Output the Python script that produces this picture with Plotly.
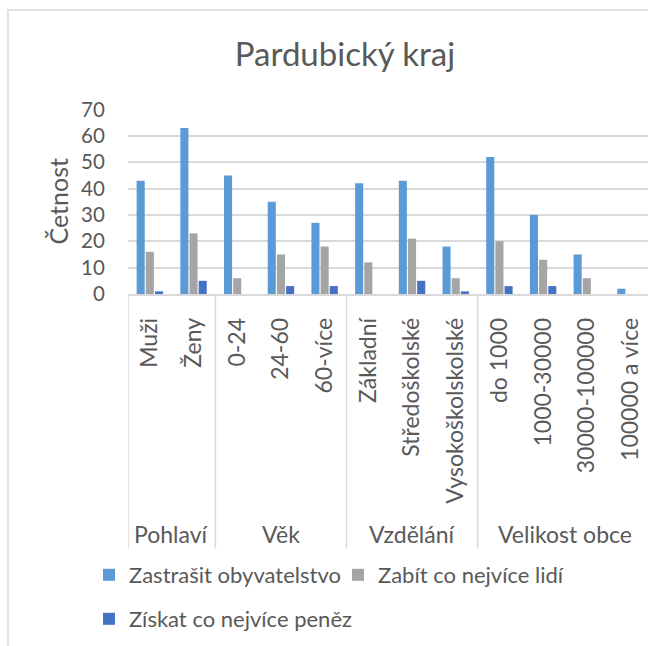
import plotly.graph_objects as go

categories = ["Muži", "Ženy", "0-24", "24-60", "60-více", "Základní", "Středoškolské",
              "Vysokoškolskolské", "do 1000", "1000-30000", "30000-100000", "100000 a více"]
groups = ["Pohlaví", "Věk", "Vzdělání", "Velikost obce"]
group_sizes = [2, 3, 3, 4]

zastrasit = [43, 63, 45, 35, 27, 42, 43, 18, 52, 30, 15, 2]
zabit = [16, 23, 6, 15, 18, 12, 21, 6, 20, 13, 6, 0]
ziskat = [1, 5, 0, 3, 3, 0, 5, 1, 3, 3, 0, 0]

series_names = ["Zastrašit obyvatelstvo", "Zabít co nejvíce lidí", "Získat co nejvíce peněz"]
colors = ["#5B9BD5", "#A5A5A5", "#4472C4"]

W, H = 648, 646
L, R, T, B = 128, 0, 109, 352
PW, PH = W - L - R, H - T - B
FONT = "Lato"
TXT = "#595959"
GRID = "#D9D9D9"

def px_x(X):
    return (X - L) / PW

def px_y(Y):
    return (H - B - Y) / PH

fig = go.Figure()
for i, (name, vals) in enumerate(zip(series_names, [zastrasit, zabit, ziskat])):
    fig.add_trace(go.Bar(x=categories, y=vals, name=name, marker=dict(color=colors[i], line=dict(width=0)),
                         legend=["legend", "legend2", "legend3"][i]))

shapes = []
edges = [-0.5]
acc = -0.5
for s in group_sizes:
    acc += s
    edges.append(acc)
for e in edges:
    shapes.append(dict(type="line", xref="x", yref="paper", x0=e, x1=e, y0=0, y1=px_y(548.6),
                       line=dict(color=GRID, width=1.5)))
shapes.append(dict(type="rect", xref="paper", yref="paper", x0=px_x(8), x1=px_x(700),
                   y0=px_y(700), y1=px_y(10), line=dict(color=GRID, width=1.5)))

annotations = []
start = 0
for g, s in zip(groups, group_sizes):
    center = start + (s - 1) / 2
    annotations.append(dict(x=center, y=px_y(534), xref="x", yref="paper", text=g, showarrow=False,
                            font=dict(family=FONT, size=23, color=TXT), xanchor="center", yanchor="middle"))
    start += s
annotations.append(dict(x=px_x(57), y=0.5, xref="paper", yref="paper", text="Četnost", textangle=-90,
                        showarrow=False, font=dict(family=FONT, size=25, color=TXT),
                        xanchor="center", yanchor="middle"))

leg_common = dict(orientation="h", font=dict(family=FONT, size=22, color=TXT), xanchor="left",
                  yanchor="middle", bgcolor="rgba(0,0,0,0)", itemclick=False, visible=True)

fig.update_layout(
    width=W, height=H,
    margin=dict(l=L, r=R, t=T, b=B, autoexpand=False),
    paper_bgcolor="white", plot_bgcolor="white",
    showlegend=True,
    barmode="group", bargap=0.37, bargroupgap=0.12,
    title=dict(text="Pardubický kraj", x=345 / W, xanchor="center",
               y=1 - 54 / H, yanchor="middle", yref="container", xref="container",
               font=dict(family=FONT, size=33, color=TXT)),
    xaxis=dict(type="category", range=[-0.5, 11.4], tickangle=-90, showgrid=False,
               showline=True, linecolor=GRID, linewidth=1.5, ticks="outside", ticklen=13,
               tickcolor="rgba(0,0,0,0)", tickfont=dict(family=FONT, size=23, color=TXT),
               fixedrange=True),
    yaxis=dict(range=[0, 70.2], tickvals=[0, 10, 20, 30, 40, 50, 60, 70], showgrid=True,
               gridcolor=GRID, gridwidth=1.5, zeroline=False, ticks="outside", ticklen=18,
               tickcolor="rgba(0,0,0,0)", tickfont=dict(family=FONT, size=20.5, color=TXT),
               fixedrange=True),
    legend=dict(x=px_x(89), y=px_y(575), **leg_common),
    legend2=dict(x=px_x(338), y=px_y(575), **leg_common),
    legend3=dict(x=px_x(89), y=px_y(619), **leg_common),
    shapes=shapes, annotations=annotations,
)

fig.write_html("out.html", config={"displayModeBar": False},
               post_script="document.body.style.margin='0';document.body.style.padding='0';"
                           "document.body.style.overflow='hidden';")
